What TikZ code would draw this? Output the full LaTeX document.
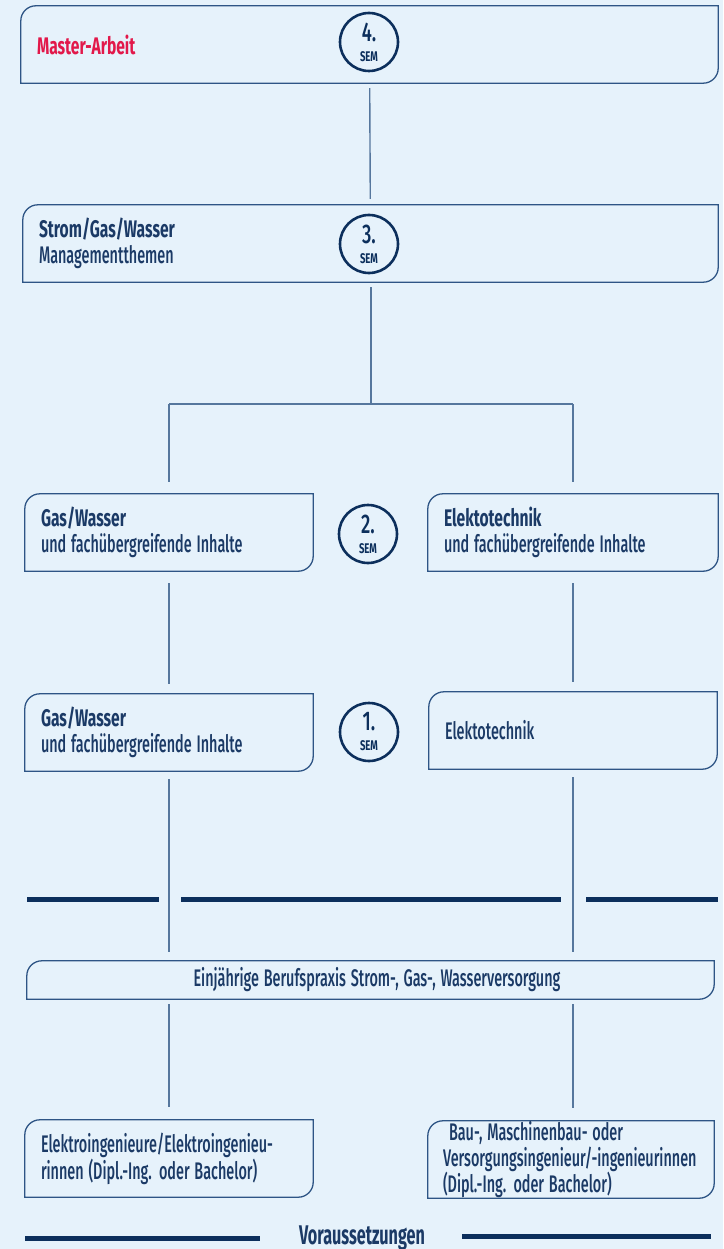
\documentclass[tikz,border=0pt]{standalone}
\usepackage{graphicx}
\usepackage{fontspec}
\setmainfont{Fira Sans}[UprightFont={Fira Sans Medium},BoldFont={Fira Sans Bold}]
\definecolor{bgblue}{HTML}{E6F2FB}
\definecolor{frameblue}{HTML}{2E5585}
\definecolor{lineblue}{HTML}{56779D}
\definecolor{navy}{HTML}{0C2F5C}
\definecolor{txtblue}{HTML}{1B3A66}
\definecolor{masterred}{HTML}{E2184A}
\newcommand{\cnd}[2][0.6]{\scalebox{#1}[1]{#2}}
\newcommand{\cndb}[1]{\scalebox{0.65}[1]{\bfseries #1}}
\newcommand{\semnr}[1]{{\fontsize{27}{27}\selectfont\cnd[0.68]{#1.}}\\[-6pt]{\fontsize{14}{14}\selectfont\bfseries\cnd[0.68]{SEM}}}

\begin{document}
\begin{tikzpicture}[x=1pt,y=-1pt]
	\tikzstyle{every node} = [text=txtblue,font=\fontsize{24}{26}\selectfont]
	\tikzstyle{frame} = [draw=frameblue,line width=1.3pt]
	\tikzstyle{semframe} = [rectangle,inner xsep=16pt,inner ysep=0pt,minimum height=77pt,align=left,
		append after command={\pgfextra{\draw[frame] ([xshift=15pt]\tikzlastnode.north west) -- (\tikzlastnode.north east)
			-- ([yshift=15pt]\tikzlastnode.south east) arc[start angle=0,end angle=-90,radius=15pt]
			-- (\tikzlastnode.south west) -- ([yshift=-15pt]\tikzlastnode.north west) arc[start angle=180,end angle=90,radius=15pt] -- cycle;}}]
	\tikzstyle{semcircle} = [circle,draw=navy,line width=2.6pt,minimum size=58pt,inner sep=0pt,text=navy,align=center]
	\tikzstyle{conn} = [draw=lineblue,line width=1.4pt]
	\tikzstyle{bar} = [draw=navy,line width=5pt]
	
	\useasboundingbox (0,0) rectangle (723,1249);
	\fill[bgblue] (0,0) rectangle (723,1249);
	
	\node[semframe,text width=665pt] (master) at (369.5,44.5) {\textcolor{masterred}{\cndb{Master-Arbeit}}};
	\node[semcircle] (sem4) at (369,42) {\semnr{4}};
	\node[semframe,text width=663pt] (mgmt) at (370.5,243.5) {\cndb{Strom/Gas/Wasser}\\\cnd{Managementthemen}};
	\node[semcircle] (sem3) at (369,244) {\semnr{3}};
	
	\node[semframe,text width=256pt] (gw2) at (169,532.5) {\cndb{Gas/Wasser}\\\cnd{und fachübergreifende Inhalte}};
	\node[semframe,text width=258pt] (et2) at (573,532.5) {\cndb{Elektotechnik}\\\cnd{und fachübergreifende Inhalte}};
	\node[semcircle] (sem2) at (368,534) {\semnr{2}};
	\node[semframe,text width=256pt] (gw1) at (169,732.5) {\cndb{Gas/Wasser}\\\cnd{und fachübergreifende Inhalte}};
	\node[semframe,text width=256pt] (et1) at (573,730.5) {\cnd{Elektotechnik}};
	\node[semcircle] (sem1) at (369,732) {\semnr{1}};
	
	\node[semframe,text width=655pt,minimum height=38pt,align=center] (praxis) at (370.5,980) {\hspace*{13pt}\cnd{Einjährige Berufspraxis Strom-, Gas-, Wasserversorgung}};
	\node[semframe,text width=256pt,font=\fontsize{24}{27}\selectfont] (elek) at (169,1158.5) {\cnd{Elektroingenieure/Elektroingenieu-}\\\cnd{rinnen (Dipl.-Ing. oder Bachelor)}};
	\node[semframe,text width=256pt,inner xsep=15pt] (bau) at (571,1159.5) {\hspace*{6pt}\cnd{Bau-, Maschinenbau- oder}\\\cnd{Versorgungsingenieur/-ingenieurinnen}\\\cnd{(Dipl.-Ing. oder Bachelor)}};
	
	\coordinate (fork) at (371,404);
	\draw[conn,shorten <=5pt,shorten >=6pt] (master) -- (mgmt);
	\draw[conn,shorten <=5pt] (mgmt.south -| fork) -- (fork);
	\draw[conn] (fork -| gw2) -- (fork -| et2);
	\draw[conn,shorten >=12pt] (fork -| gw2) -- (gw2.north);
	\draw[conn,shorten >=12pt] (fork -| et2) -- (et2.north);
	\draw[conn,shorten <=12pt,shorten >=10pt] (gw2) -- (gw1);
	\draw[conn,shorten <=12pt,shorten >=10pt] (et2) -- (et1);
	\draw[conn,shorten <=8pt,shorten >=9pt] (gw1.south) -- (gw1.south |- praxis.north);
	\draw[conn,shorten <=8pt,shorten >=9pt] (et1.south) -- (et1.south |- praxis.north);
	\draw[conn,shorten <=5pt,shorten >=13pt] (praxis.south -| gw1) -- (elek.north);
	\draw[conn,shorten <=5pt,shorten >=13pt] (praxis.south -| et1) -- (bau.north -| et1);
	
	\draw[bar] (27,899) -- (159,899);
	\draw[bar] (181,899) -- (561,899);
	\draw[bar] (586,899) -- (718,899);
	\draw[bar] (25,1238) -- (260,1238);
	\draw[bar] (462,1236) -- (711,1236);
	\node[anchor=base,font=\fontsize{27}{26}\selectfont\bfseries] (voraus) at (362,1244) {\cnd{Voraussetzungen}};
\end{tikzpicture}
\end{document}
